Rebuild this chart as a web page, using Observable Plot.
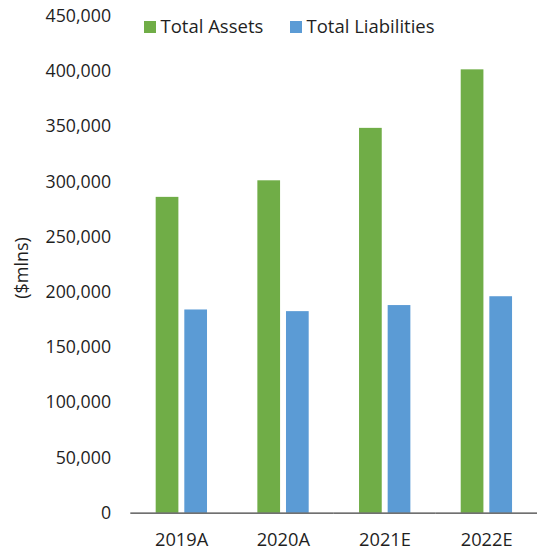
<!DOCTYPE html>
<html>
<head>
<meta charset="utf-8">
<script src="https://cdn.jsdelivr.net/npm/d3@7"></script>
<script src="https://cdn.jsdelivr.net/npm/@observablehq/plot@0.6"></script>
<style>
  html, body { margin: 0; padding: 0; background: #fff; }
  #wrap { position: relative; width: 539px; height: 557px; overflow: hidden; font-family: "Open Sans", sans-serif; color: #1f1f1f; }
  .leg { position: absolute; top: 14px; font-size: 18.5px; line-height: 24px; white-space: nowrap; }
  .sw { position: absolute; width: 12px; height: 12px; top: 6.5px; left: 0; }
  .leg span.t { position: absolute; left: 16.5px; top: 0; }
  #ylab { position: absolute; left: 21px; top: 268px; transform: translate(-50%, -50%) rotate(-90deg); font-size: 18px; white-space: nowrap; }
  #chart svg g[aria-label="fx-axis tick label"] text { font-size: 18.5px; }
</style>
</head>
<body>
<div id="wrap">
  <div id="chart"></div>
  <div id="ylab">($mlns)</div>
</div>
<script>
const years = ["2019A", "2020A", "2021E", "2022E"];
const seriesNames = ["Total Assets", "Total Liabilities"];
const totalAssets = [286000, 301000, 348500, 401500];
const totalLiabilities = [184000, 182500, 188000, 196000];
const yTicks = [0, 50000, 100000, 150000, 200000, 250000, 300000, 350000, 400000, 450000];
const seriesColors = ["#70AD47", "#5B9BD5"];

const table = [];
years.forEach((yr, i) => {
  table.push({year: yr, series: seriesNames[0], value: totalAssets[i]});
  table.push({year: yr, series: seriesNames[1], value: totalLiabilities[i]});
});

const chart = Plot.plot({
  width: 546,
  height: 557,
  marginLeft: 130.3,
  marginRight: 0,
  marginTop: 16,
  marginBottom: 37.7,
  style: {fontFamily: "'Open Sans', sans-serif", fontSize: "18px", color: "#1f1f1f", background: "white", overflow: "visible"},
  fx: {domain: years, padding: 0, label: null, tickSize: 0, tickPadding: 20.5},
  x: {domain: seriesNames, paddingInner: 0.2, paddingOuter: 0.845, axis: null},
  y: {domain: [0, 450000], ticks: yTicks, tickFormat: d3.format(","), tickSize: 0, tickPadding: 20, label: null},
  color: {domain: seriesNames, range: seriesColors},
  marks: [
    Plot.barY(table, {fx: "year", x: "series", y: "value", fill: "series"}),
    Plot.ruleY([0], {stroke: "#404040", strokeWidth: 1.4})
  ]
});
document.getElementById("chart").appendChild(chart);

const wrap = document.getElementById("wrap");
const legendX = [144, 290];
seriesNames.forEach((name, i) => {
  const d = document.createElement("div");
  d.className = "leg";
  d.style.left = legendX[i] + "px";
  d.innerHTML = `<div class="sw" style="background:${seriesColors[i]}"></div><span class="t">${name}</span>`;
  wrap.appendChild(d);
});
</script>
</body>
</html>
